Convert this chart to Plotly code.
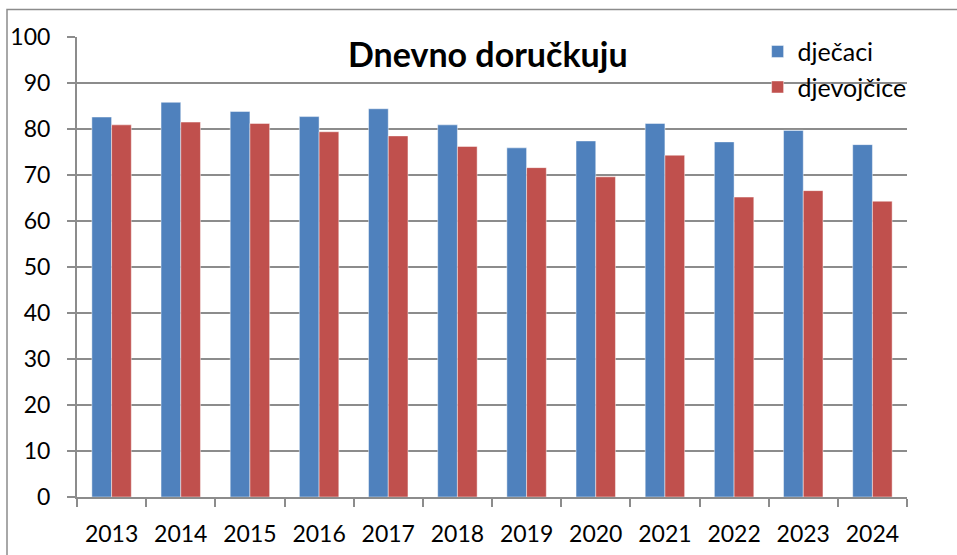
import plotly.graph_objects as go

years = ["2013", "2014", "2015", "2016", "2017", "2018", "2019", "2020", "2021", "2022", "2023", "2024"]
djecaci = [82.6, 85.8, 83.8, 82.7, 84.4, 80.9, 75.9, 77.4, 81.2, 77.2, 79.7, 76.6]
djevojcice = [80.9, 81.5, 81.2, 79.4, 78.5, 76.2, 71.6, 69.6, 74.3, 65.2, 66.6, 64.3]
y_ticks = [0, 10, 20, 30, 40, 50, 60, 70, 80, 90, 100]

FONT = "Lato"
GRID = "#8c8c8c"

fig = go.Figure()
fig.add_trace(go.Bar(name="dječaci", x=years, y=djecaci, legendgroup="a",
                     marker=dict(color="#4F81BD", line=dict(color="rgba(255,255,255,0.45)", width=1))))
fig.add_trace(go.Bar(name="djevojčice", x=years, y=djevojcice, legendgroup="b",
                     marker=dict(color="#C0504D", line=dict(color="rgba(255,255,255,0.45)", width=1))))

fig.update_layout(
    width=957, height=555,
    margin=dict(l=77, r=50, t=37, b=58),
    paper_bgcolor="white", plot_bgcolor="white",
    barmode="group", bargap=0.43, bargroupgap=0,
    font=dict(family=FONT, size=23, color="black"),
    showlegend=True,
    legend=dict(x=0.82, y=1.018, xanchor="left", yanchor="top",
                font=dict(family=FONT, size=25, color="black"),
                bgcolor="rgba(0,0,0,0)", traceorder="grouped", tracegroupgap=0),
    xaxis=dict(type="category", showgrid=False, showline=True, linecolor=GRID, linewidth=2,
               ticks="outside", tickson="boundaries", ticklen=8, tickcolor=GRID, tickwidth=2,
               tickfont=dict(family=FONT, size=23, color="black"), ticklabelstandoff=15,
               automargin=False),
    yaxis=dict(range=[0, 100], tickvals=y_ticks, showgrid=True, gridcolor=GRID, gridwidth=2,
               showline=True, linecolor=GRID, linewidth=2, zeroline=False,
               ticks="outside", ticklen=8, tickcolor=GRID, tickwidth=2,
               tickfont=dict(family=FONT, size=23, color="black"), ticklabelstandoff=12,
               automargin=False),
    annotations=[dict(text="<b>Dnevno doručkuju</b>", x=0.495, y=0.965, xref="paper", yref="paper",
                      xanchor="center", yanchor="middle", showarrow=False,
                      font=dict(family=FONT, size=34, color="black"))],
    shapes=[dict(type="rect", xref="paper", yref="paper",
                 x0=(7 - 77) / 830, x1=(965 - 77) / 830,
                 y0=(497 - 570) / 460, y1=(497 - 9.5) / 460,
                 line=dict(color="#8c8c8c", width=1.5), fillcolor="rgba(0,0,0,0)", layer="below")],
)

fig.write_html("out.html", config={"displayModeBar": False})
with open("out.html", "r", encoding="utf-8") as f:
    html = f.read()
html = html.replace("<head>", "<head><style>html,body{margin:0;padding:0;overflow:hidden;}</style>", 1)
with open("out.html", "w", encoding="utf-8") as f:
    f.write(html)
